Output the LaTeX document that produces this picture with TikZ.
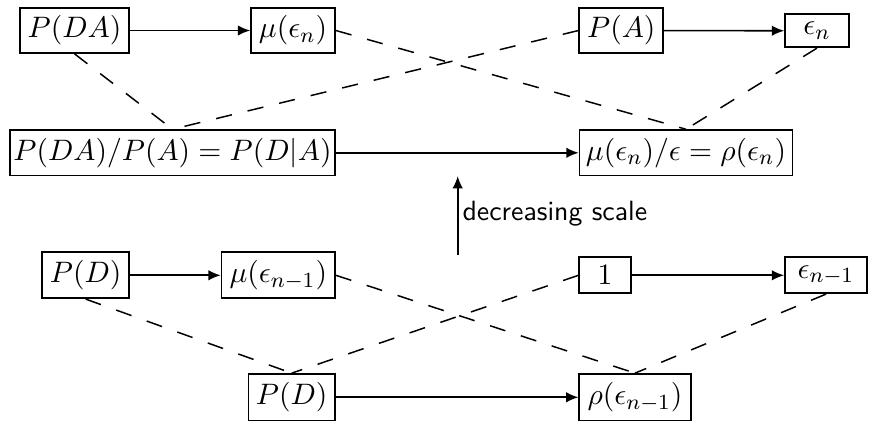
\documentclass[tikz,border=0pt]{standalone}
\usetikzlibrary{arrows.meta}
\begin{document}
\begin{tikzpicture}[x=0.37pt,y=-0.37pt,
  box/.style={draw,line width=0.6pt,inner sep=0pt,font=\fontsize{10.8}{12}\selectfont},
  conn/.style={line width=0.6pt,-{Latex[length=4.6pt,width=3.9pt]}},
  dsh/.style={line width=0.55pt,dash pattern=on 6pt off 6pt}]
\useasboundingbox (0,0) rectangle (873,425);
% top row
\node[box,minimum width=109*0.37pt,minimum height=45*0.37pt] (PDA) at (74.5,30.5) {$P(DA)$};
\node[box,minimum width=84*0.37pt,minimum height=45*0.37pt] (muen) at (293,30.5) {$\mu(\epsilon_n)$};
\node[box,minimum width=84*0.37pt,minimum height=45*0.37pt] (PA) at (621.3,30.5) {$P(A)$};
\node[box,minimum width=64*0.37pt,minimum height=33*0.37pt] (en) at (817,30.8) {$\epsilon_n$};
% middle row
\node[box,minimum width=325*0.37pt,minimum height=45.5*0.37pt] (cond) at (172.5,152.8) {$P(DA)/P(A)=P(D|A)$};
\node[box,minimum width=213*0.37pt,minimum height=45.5*0.37pt] (rhon) at (686,152.8) {$\mu(\epsilon_n)/\epsilon=\rho(\epsilon_n)$};
% lower row
\node[box,minimum width=87*0.37pt,minimum height=46*0.37pt] (PD1) at (85.7,275.3) {$P(D)$};
\node[box,minimum width=113.5*0.37pt,minimum height=46*0.37pt] (mun1) at (278.3,275.3) {$\mu(\epsilon_{n-1})$};
\node[box,minimum width=51.5*0.37pt,minimum height=36*0.37pt] (one) at (605,275.3) {$1$};
\node[box,minimum width=82*0.37pt,minimum height=36*0.37pt] (en1) at (826,275.3) {$\epsilon_{n-1}$};
% bottom row
\node[box,minimum width=86.7*0.37pt,minimum height=46.7*0.37pt] (PD2) at (291.7,397.3) {$P(D)$};
\node[box,minimum width=111.4*0.37pt,minimum height=46.7*0.37pt] (rho1) at (635,397.3) {$\rho(\epsilon_{n-1})$};
% solid arrows
\draw[conn] (PDA) -- (muen);
\draw[conn] (PA) -- (en);
\draw[conn] (cond) -- (rhon);
\draw[conn] (PD1) -- (mun1);
\draw[conn] (one) -- (en1);
\draw[conn] (PD2) -- (rho1);
% dashed links
\draw[dsh] (PDA.south) -- (cond.north);
\draw[dsh] (PA.west) -- (cond.north);
\draw[dsh] (muen.east) -- (rhon.north);
\draw[dsh] (en.south) -- (rhon.north);
\draw[dsh] (PD1.south) -- (PD2.north);
\draw[dsh] (one.west) -- (PD2.north);
\draw[dsh] (mun1.east) -- (rho1.north);
\draw[dsh] (en1.south) -- (rho1.north);
% scale arrow
\coordinate (s0) at (457.7,255);
\coordinate (s1) at (457.7,176);
\draw[conn] (s0) -- (s1);
\node[anchor=west,inner sep=0pt,font=\fontsize{10.3}{12}\sffamily] (lbl) at (462,214) {decreasing scale};
\end{tikzpicture}
\end{document}
